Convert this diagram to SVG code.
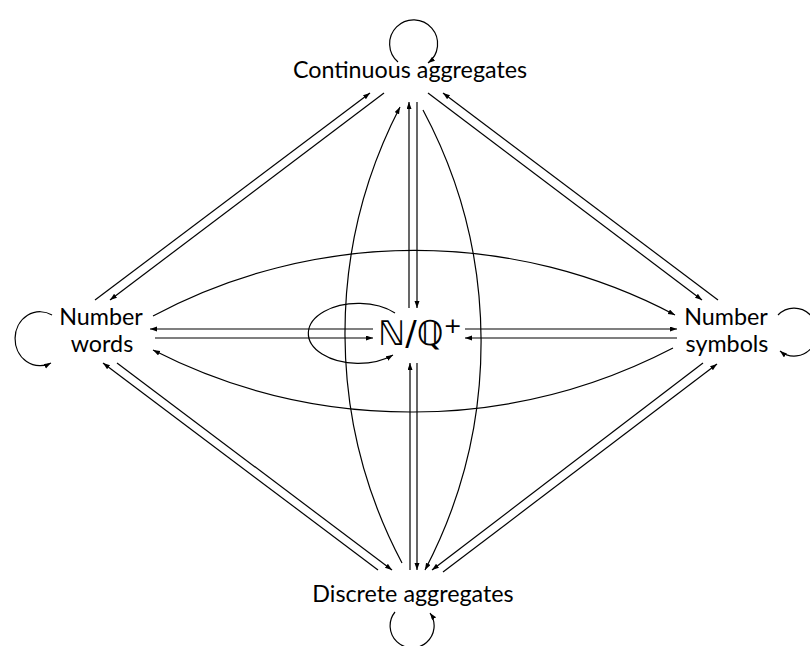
<svg xmlns="http://www.w3.org/2000/svg" width="810" height="646" viewBox="0 0 810 646">
  <style>
    .lbl { font-family: "Lato", "Open Sans", "DejaVu Sans", sans-serif; font-size: 23.3px; fill: #000; text-anchor: middle; }
    .sym { font-family: "DejaVu Sans", sans-serif; font-size: 34px; fill: #000; }
    .c { fill: none; stroke: #000; stroke-width: 1.2; }
    .a { marker-end: url(#ah); }
  </style>
  <defs>
    <marker id="ah" markerUnits="userSpaceOnUse" markerWidth="8" markerHeight="6" refX="7" refY="2.5" orient="auto">
      <path d="M0,0 L7,2.5 L0,5 z" fill="#000"/>
    </marker>
  </defs>
  <rect width="810" height="646" fill="#fff"/>

  <g id="connectors">
    <!-- top-left pair -->
    <line class="c a" x1="95" y1="300" x2="370" y2="93"/>
    <line class="c a" x1="384" y1="93" x2="110" y2="300"/>
    <!-- top-right pair -->
    <line class="c a" x1="428" y1="93" x2="702" y2="300"/>
    <line class="c a" x1="718" y1="300" x2="443" y2="93"/>
    <!-- vertical top pair -->
    <line class="c a" x1="409" y1="308" x2="409" y2="102"/>
    <line class="c a" x1="417" y1="102" x2="417" y2="308"/>
    <!-- vertical bottom pair -->
    <line class="c a" x1="410" y1="570" x2="410" y2="363"/>
    <line class="c a" x1="417" y1="363" x2="417" y2="570"/>
    <!-- left horizontal pair -->
    <line class="c a" x1="373" y1="329" x2="150" y2="329"/>
    <line class="c a" x1="155" y1="338" x2="373" y2="338"/>
    <!-- right horizontal pair -->
    <line class="c a" x1="465" y1="329" x2="677" y2="329"/>
    <line class="c a" x1="677" y1="338" x2="465" y2="338"/>
    <!-- bottom-left pair -->
    <line class="c a" x1="378" y1="570" x2="103" y2="363"/>
    <line class="c a" x1="117" y1="363" x2="392" y2="570"/>
    <!-- bottom-right pair -->
    <line class="c a" x1="703" y1="363" x2="432" y2="570"/>
    <line class="c a" x1="443" y1="572" x2="717" y2="364"/>
    <!-- lens arcs -->
    <path class="c a" d="M402,563 A492,492 0 0 1 400,107"/>
    <path class="c a" d="M423,110 A492,492 0 0 1 425,570"/>
    <path class="c a" d="M153,316 A556,556 0 0 1 675,315"/>
    <path class="c a" d="M673,348 A568,568 0 0 1 153,350"/>
    <!-- self loops -->
    <path class="c a" d="M398,62 A24,24 0 1 1 428,63"/>
    <path class="c a" d="M52,315 A25,27 0 1 0 51,363"/>
    <path class="c a" d="M778,315 A23,24 0 1 1 780,351"/>
    <path class="c a" d="M395,612 A22,22 0 1 0 430,613"/>
    <path class="c a" d="M395,313 A50,30 0 1 0 393,355"/>
  </g>

  <g id="continuous">
    <text class="lbl" x="410" y="78">Continuous aggregates</text>
  </g>
  <g id="words">
    <text class="lbl" x="101" y="325">Number</text>
    <text class="lbl" x="102" y="352">words</text>
  </g>
  <g id="symbols">
    <text class="lbl" x="726" y="325">Number</text>
    <text class="lbl" x="727" y="352">symbols</text>
  </g>
  <g id="discrete">
    <text class="lbl" x="413" y="602">Discrete aggregates</text>
  </g>
  <g id="numbers">
    <text class="sym" x="378" y="345">ℕ/ℚ<tspan font-size="22" dy="-12">+</tspan></text>
  </g>
</svg>
